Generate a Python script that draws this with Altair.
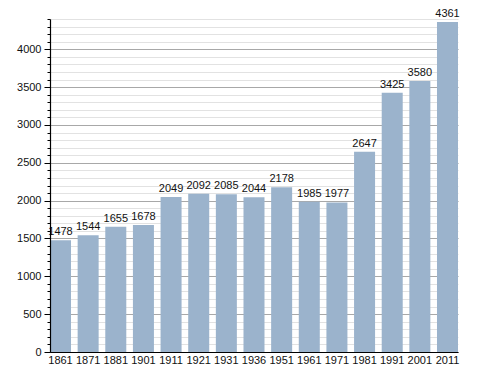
import altair as alt
import pandas as pd

years = ["1861", "1871", "1881", "1901", "1911", "1921", "1931", "1936", "1951", "1961", "1971", "1981", "1991", "2001", "2011"]
population = [1478, 1544, 1655, 1678, 2049, 2092, 2085, 2044, 2178, 1985, 1977, 2647, 3425, 3580, 4361]

df = pd.DataFrame({"year": years, "pop": population})

minor_vals = list(range(0, 4401, 100))
major_vals = list(range(0, 4401, 500))

FONT = "Liberation Sans"

x_enc = alt.X("year:N", sort=years, title=None,
              scale=alt.Scale(paddingInner=0.24, paddingOuter=0),
              axis=alt.Axis(labelAngle=0, ticks=False, domainColor="black",
                            labelFont=FONT, labelFontSize=11, labelColor="#111",
                            labelPadding=2, grid=False, zindex=1))

y_scale = alt.Scale(domain=[0, 4400], nice=False)

minor_grid = alt.Chart(df).mark_bar(opacity=0).encode(
    x=x_enc,
    y=alt.Y("pop:Q", scale=y_scale, title=None,
            axis=alt.Axis(values=minor_vals, labels=False, tickSize=3, tickColor="black",
                          orient="left", grid=True, gridColor="#e2e2e2", domain=False,
                          zindex=0))
)

major_grid = alt.Chart(df).mark_bar(opacity=0).encode(
    x=x_enc,
    y=alt.Y("pop:Q", scale=y_scale, title=None,
            axis=alt.Axis(values=major_vals, labels=False, ticks=False, domain=False,
                          orient="left", grid=True, gridColor="#a8a8a8", zindex=0))
)

major_axis = alt.Chart(df).mark_bar(opacity=0).encode(
    x=x_enc,
    y=alt.Y("pop:Q", scale=y_scale, title=None,
            axis=alt.Axis(values=major_vals, tickSize=6, tickColor="black", orient="left",
                          grid=False, domainColor="black",
                          labelFont=FONT, labelFontSize=11, labelColor="#111",
                          labelPadding=3, format="d", zindex=1))
)

bars = alt.Chart(df).mark_bar(color="#9bb3cc", opacity=1).encode(
    x=x_enc,
    y=alt.Y("pop:Q", scale=y_scale, title=None, axis=None)
)

labels = alt.Chart(df).mark_text(font=FONT, fontSize=11, color="#111", dy=-5,
                                  baseline="alphabetic").encode(
    x=x_enc,
    y=alt.Y("pop:Q", scale=y_scale, axis=None),
    text=alt.Text("pop:Q", format="d")
)

chart = alt.layer(minor_grid, major_grid, major_axis, bars, labels).resolve_axis(y="independent").properties(
    width=408, height=333,
    autosize=alt.AutoSizeParams(type="none"),
    padding={"left": 42, "top": 11, "right": 22, "bottom": 13}
).configure_view(stroke=None).configure_axis(domainWidth=1.2)

chart.save("out.html", embed_options={"renderer": "svg", "actions": False})
